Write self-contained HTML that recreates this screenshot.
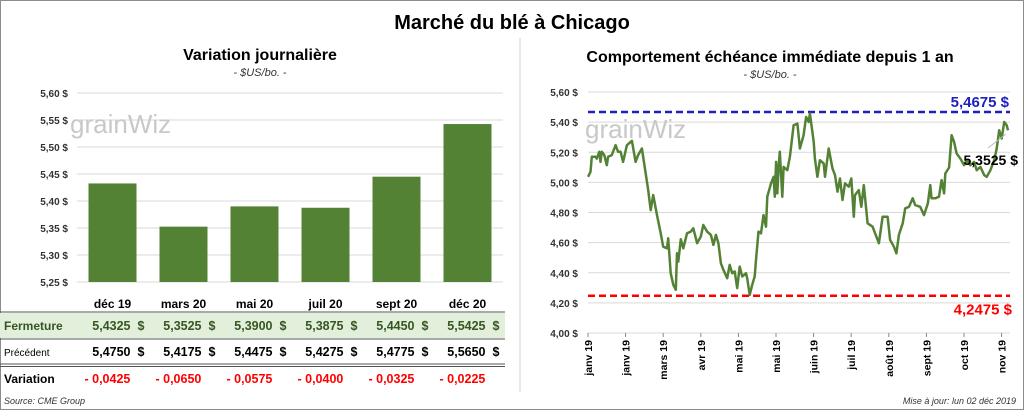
<!DOCTYPE html>
<html><head><meta charset="utf-8"><style>
body{margin:0;background:#fff;font-family:"Liberation Sans",sans-serif}
svg text{font-family:"Liberation Sans",sans-serif}
</style></head><body>
<svg width="1024" height="410" viewBox="0 0 1024 410" xmlns="http://www.w3.org/2000/svg">
<rect x="0.5" y="0.5" width="1023" height="409" fill="#fff" stroke="#8c8c8c"/>
<line x1="520" y1="38" x2="520" y2="392" stroke="#d0d0d0"/>
<text x="512" y="29" text-anchor="middle" font-size="20" font-weight="bold" fill="#000">Marché du blé à Chicago</text>
<text x="260" y="60" text-anchor="middle" font-size="16" font-weight="bold">Variation  journalière</text>
<text x="260" y="76" text-anchor="middle" font-size="11" font-style="italic" fill="#333">- $US/bo. -</text>
<text x="770" y="62" text-anchor="middle" font-size="16" font-weight="bold">Comportement  échéance immédiate depuis 1 an</text>
<text x="770" y="78" text-anchor="middle" font-size="11" font-style="italic" fill="#333">- $US/bo. -</text>
<g id="left"></g>
<g id="table"></g>
<g id="right"></g>
<text x="4" y="404" font-size="9" font-style="italic" fill="#333">Source: CME Group</text>
<text x="1016" y="404" text-anchor="end" font-size="9" font-style="italic" fill="#333">Mise à jour: lun 02 déc 2019</text>
</svg>
<script>
const NS="http://www.w3.org/2000/svg";
const categories=["déc 19","mars 20","mai 20","juil 20","sept 20","déc 20"];
const closes=[5.4325,5.3525,5.3900,5.3875,5.4450,5.5425];
const previous=[5.4750,5.4175,5.4475,5.4275,5.4775,5.5650];
const leftTicks=[5.25,5.30,5.35,5.40,5.45,5.50,5.55,5.60];
const days=[0,2,3,6,7,9,10,11,13,15,16,19,22,24,26,28,31,35,38,40,43,46,48,50,52,55,58,60,63,64,66,68,70,71,72,74,76,79,82,84,87,90,92,95,98,100,102,104,106,108,111,113,115,117,119,121,123,126,127,129,131,133,134,136,138,140,142,143,146,148,149,150,151,152,153,155,156,159,161,164,167,169,172,174,176,177,180,181,183,185,188,189,192,195,197,199,201,203,205,208,210,212,213,216,218,220,223,227,229,232,235,239,241,244,246,248,251,253,256,259,261,265,268,271,273,274,277,280,282,284,285,288,290,292,294,297,300,302,305,308,310,313,316,318,321,324,326,328,330,332,334,335];
const prices=[5.037,5.070,5.170,5.170,5.158,5.203,5.136,5.203,5.181,5.114,5.170,5.181,5.247,5.203,5.203,5.136,5.247,5.276,5.136,5.181,5.225,5.059,4.949,4.816,4.916,4.783,4.662,4.573,4.562,4.629,4.397,4.320,4.287,4.529,4.474,4.622,4.562,4.662,4.673,4.695,4.596,4.640,4.717,4.673,4.651,4.585,4.651,4.596,4.463,4.419,4.364,4.452,4.397,4.408,4.298,4.441,4.375,4.397,4.364,4.253,4.320,4.375,4.485,4.673,4.662,4.783,4.706,4.905,4.993,5.037,4.905,5.136,4.927,5.103,5.203,4.905,5.103,5.081,5.170,5.379,5.390,5.225,5.313,5.434,5.401,5.457,5.269,5.158,5.037,5.147,5.125,5.037,5.225,5.092,5.048,4.938,5.026,4.883,4.993,4.971,5.026,4.772,4.916,4.949,4.838,4.982,4.728,4.706,4.662,4.596,4.772,4.772,4.618,4.573,4.529,4.651,4.728,4.827,4.838,4.894,4.849,4.838,4.783,4.860,4.982,4.894,4.894,4.905,5.015,4.927,5.059,5.099,5.313,5.269,5.192,5.158,5.114,5.147,5.114,5.136,5.081,5.103,5.048,5.037,5.081,5.147,5.225,5.346,5.291,5.401,5.379,5.346];
const monthLabels=["janv 19","janv 19","mars 19","avr 19","mai 19","mai 19","juin 19","juil 19","août 19","sept 19","oct 19","nov 19"];
const rightTicks=[4.0,4.2,4.4,4.6,4.8,5.0,5.2,5.4,5.6];
const highVal=5.4675, lowVal=4.2475, lastVal=5.3525;

function mk(tag,attrs,parent,txt){const e=document.createElementNS(NS,tag);for(const k in attrs)e.setAttribute(k,attrs[k]);if(txt!==undefined)e.textContent=txt;parent.appendChild(e);return e;}
const fmt=(v,d)=>v.toFixed(d).replace('.',',');

// left bar chart
const L=document.getElementById('left');
const lx0=77,lx1=503,ly=v=>93+(5.60-v)*540;
const bw=(lx1-lx0)/categories.length;
leftTicks.forEach(t=>{
 const g=mk('line',{x1:lx0,x2:lx1,y1:ly(t),y2:ly(t),stroke:'#d9d9d9'},L);
 
 const tx=mk('text',{x:68,y:ly(t)+4,'text-anchor':'end','font-size':10,'font-weight':'bold',fill:'#333'},L,fmt(t,2)+' $');
 
});
const wm1=mk('text',{x:70,y:133,'font-size':26,fill:'#c8c8c8'},L,'grainWiz');

closes.forEach((v,i)=>{
 const cx=lx0+bw*(i+0.5);
 const r=mk('rect',{x:cx-24,y:ly(v),width:48,height:ly(5.25)-ly(v),fill:'#548235'},L);
 
 const t=mk('text',{x:cx,y:308,'text-anchor':'middle','font-size':12,'font-weight':'bold'},L,categories[i]);
 
});

// table
const T=document.getElementById('table');
const band=mk('rect',{x:0,y:313,width:505,height:25,fill:'#e2efda'},T);

[[312,'#555',1],[339,'#555',1],[364,'#555',1],[366.5,'#555',1]].forEach(a=>{
 const l=mk('line',{x1:0,x2:505,y1:a[0],y2:a[0],stroke:a[1],'stroke-width':a[2]},T);
 
});
const rows=[['Fermeture',330,'#375623',12,true],['Précédent',356,'#000',10,false],['Variation',383,'#000',12,true]];
rows.forEach(r=>{const t=mk('text',{x:4,y:r[1],'font-size':r[3],'font-weight':r[4]?'bold':'normal',fill:r[2]},T,r[0]);
 });
closes.forEach((v,i)=>{
 const x=lx0+bw*(i+0.5);
 const a=mk('text',{x:x+18,y:330,'text-anchor':'end','font-size':12.5,'font-weight':'bold',fill:'#375623'},T,fmt(v,4));
 
 const a2=mk('text',{x:x+25,y:330,'font-size':12.5,'font-weight':'bold',fill:'#375623'},T,'$');
 
 const b=mk('text',{x:x+18,y:356,'text-anchor':'end','font-size':12.5,'font-weight':'bold'},T,fmt(previous[i],4));
 
 const b2=mk('text',{x:x+25,y:356,'font-size':12.5,'font-weight':'bold'},T,'$');
 
 const d=v-previous[i];
 const c=mk('text',{x:x-28,y:383,'font-size':12.5,'font-weight':'bold',fill:'#ff0000'},T,(d<0?'- ':'+ ')+fmt(Math.abs(d),4));
 
});

// right line chart
const R=document.getElementById('right');
const rx0=588,rx1=1010,ry=v=>92+(5.6-v)/1.6*241,rxd=d=>rx0+d/335*420;
rightTicks.forEach(t=>{
 const g=mk('line',{x1:rx0,x2:rx1,y1:ry(t),y2:ry(t),stroke:'#d9d9d9'},R);
 
 const tx=mk('text',{x:578,y:ry(t)+4,'text-anchor':'end','font-size':10,'font-weight':'bold',fill:'#333'},R,fmt(t,2)+' $');
 
});
const wm2=mk('text',{x:585,y:138,'font-size':26,fill:'#c8c8c8'},R,'grainWiz');

monthLabels.forEach((m,i)=>{
 const x=rx0+i*37.6;
 const tk=mk('line',{x1:x,x2:x,y1:ry(4.0),y2:ry(4.0)+4,stroke:'#888'},R);
 
 const t=mk('text',{x:x+4,y:340,'text-anchor':'end','font-size':10.5,'font-weight':'bold',transform:`rotate(-90 ${x+4} 340)`},R,m);
 
});
const hl=mk('line',{x1:rx0,x2:rx1,y1:ry(highVal),y2:ry(highVal),stroke:'#1f1fbf','stroke-width':2.5,'stroke-dasharray':'7 4'},R);

const ll=mk('line',{x1:rx0,x2:rx1,y1:ry(lowVal),y2:ry(lowVal),stroke:'#ff0000','stroke-width':2.5,'stroke-dasharray':'7 4'},R);

let d='';const n=Math.min(days.length,prices.length);
for(let i=0;i<n;i++)d+=(i?'L':'M')+rxd(days[i]).toFixed(1)+' '+ry(prices[i]).toFixed(1);
const p=mk('path',{d:d,fill:'none',stroke:'#548235','stroke-width':2.5,'stroke-linejoin':'round'},R);

const ht=mk('text',{x:1009,y:ry(highVal)-5,'text-anchor':'end','font-size':15,'font-weight':'bold',fill:'#1f1fbf'},R,fmt(highVal,4)+' $');

const lt=mk('text',{x:1012,y:ry(lowVal)+19,'text-anchor':'end','font-size':15,'font-weight':'bold',fill:'#ff0000'},R,fmt(lowVal,4)+' $');

const cl=mk('line',{x1:988,y1:148,x2:1006,y2:134,stroke:'#bbb'},R);

const lv=mk('text',{x:1018,y:165,'text-anchor':'end','font-size':14,'font-weight':'bold'},R,fmt(lastVal,4)+' $');

</script>
</body></html>
